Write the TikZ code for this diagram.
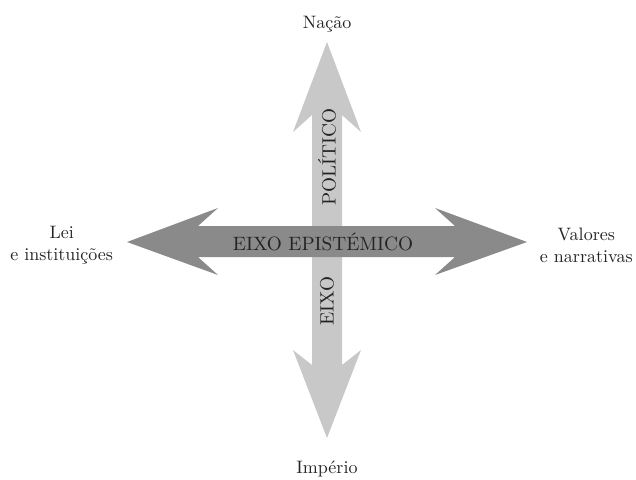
\documentclass[tikz,border=0pt]{standalone}
\definecolor{lightarrow}{RGB}{200,200,200}
\definecolor{darkarrow}{RGB}{138,138,138}
\definecolor{inktext}{RGB}{35,35,35}
\tikzset{
  lbl/.style={font=\fontsize{10}{12.2}\selectfont, scale=1.8, text=inktext, align=center, inner sep=0pt},
  axislbl/.style={font=\fontsize{10}{12}\selectfont, scale=1.93, text=inktext, inner sep=0pt},
  vaxis/.style={fill=lightarrow, draw=none},
  haxis/.style={fill=darkarrow, draw=none}
}
\begin{document}
\begin{tikzpicture}[x=1pt,y=-1pt]
\useasboundingbox (0,0) rectangle (636,479);
% vertical arrow (light)
\fill[vaxis] (327,42) -- (361,132) -- (342,115) -- (342,365) -- (361,350) -- (327,438)
  -- (293,350) -- (312,365) -- (312,115) -- (293,132) -- cycle;
% horizontal arrow (dark)
\fill[haxis] (127,242) -- (218,208) -- (198,226) -- (455,226) -- (435,208) -- (527,242)
  -- (435,275) -- (455,257) -- (198,257) -- (218,275) -- cycle;
% axis labels
\node[axislbl] (epi) at (323,242) {EIXO EPISTÉMICO};
\node[axislbl, rotate=90] (pol) at (327,157) {POLÍTICO};
\node[axislbl, rotate=90] (eixo) at (327,301) {EIXO};
% end labels
\node[lbl, anchor=base] (nacao) at (327,28) {Nação};
\node[lbl, anchor=base] (imperio) at (327,473) {Império};
\node[lbl, anchor=west] (lei) at (10,245) {Lei\\e instituições};
\node[lbl, anchor=east] (valores) at (633,245) {Valores\\e narrativas};
\end{tikzpicture}
\end{document}
